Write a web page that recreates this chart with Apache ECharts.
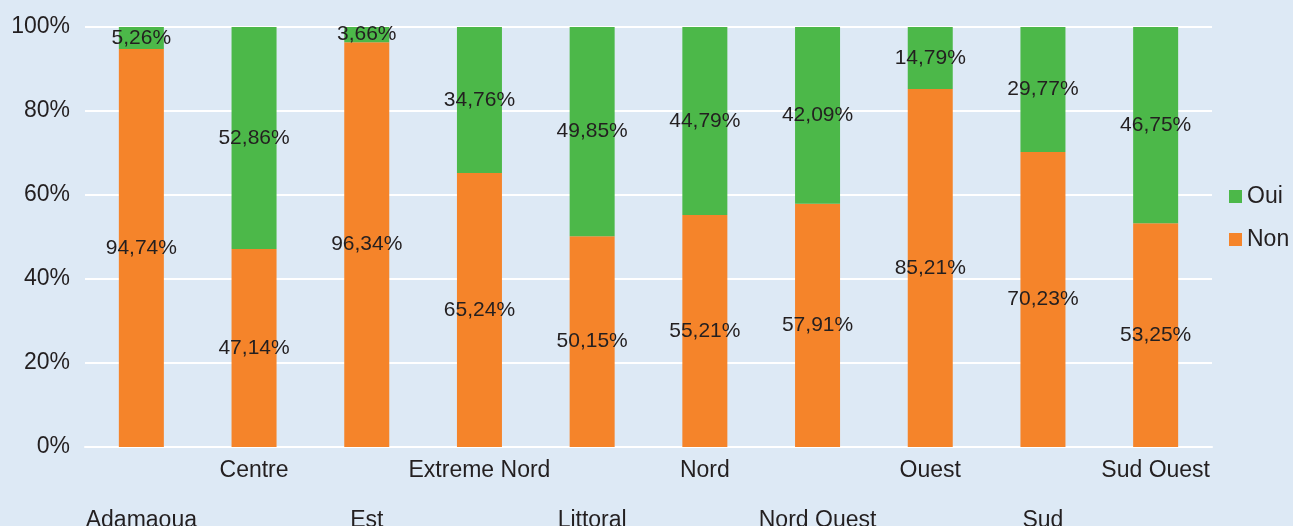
<!DOCTYPE html>
<html>
<head>
<meta charset="utf-8">
<script src="https://cdn.jsdelivr.net/npm/echarts@6/dist/echarts.min.js"></script>
<style>
  html, body { margin: 0; padding: 0; background: #dde9f5; }
  #chart { width: 1293px; height: 526px; }
</style>
</head>
<body>
<div id="chart"></div>
<script>
// Régions and answer shares (%)
const regions = ['Adamaoua', 'Centre', 'Est', 'Extreme Nord', 'Littoral', 'Nord', 'Nord Ouest', 'Ouest', 'Sud', 'Sud Ouest'];
const nonValues = [94.74, 47.14, 96.34, 65.24, 50.15, 55.21, 57.91, 85.21, 70.23, 53.25];
const ouiValues = [5.26, 52.86, 3.66, 34.76, 49.85, 44.79, 42.09, 14.79, 29.77, 46.75];
const yTicks = [0, 20, 40, 60, 80, 100];

const fmt = v => v.toFixed(2).replace('.', ',') + '%';
const textColor = '#231f20';
const font = 'Liberation Sans, Arial, sans-serif';

const chart = echarts.init(document.getElementById('chart'));
chart.setOption({
  backgroundColor: '#dde9f5',
  animation: false,
  textStyle: { fontFamily: font },
  grid: {
    left: 85, right: 81, top: 27, bottom: 79,
    containLabel: false,
    outerBoundsMode: 'none'
  },
  legend: {
    orient: 'vertical',
    left: 1224,
    top: 180,
    itemWidth: 13,
    itemHeight: 13,
    itemGap: 20,
    icon: 'rect',
    data: ['Oui', 'Non'],
    textStyle: { fontSize: 23, color: textColor, fontFamily: font }
  },
  xAxis: {
    type: 'category',
    data: regions,
    axisLine: { lineStyle: { color: '#ffffff', width: 2 } },
    axisTick: { show: false },
    axisLabel: {
      interval: 0,
      margin: 11,
      fontSize: 23,
      lineHeight: 25,
      color: textColor,
      fontFamily: font,
      formatter: (v, i) => (i % 2 === 0 ? '\n\n' + v : v)
    }
  },
  yAxis: {
    type: 'value',
    min: yTicks[0],
    max: yTicks[yTicks.length - 1],
    interval: 20,
    axisLine: { show: false },
    axisTick: { show: false },
    splitLine: { lineStyle: { color: '#ffffff', width: 2 } },
    axisLabel: {
      margin: 15,
      fontSize: 23,
      color: textColor,
      fontFamily: font,
      formatter: v => v + '%'
    }
  },
  series: [
    {
      name: 'Non',
      type: 'bar',
      stack: 'total',
      barWidth: 45,
      data: nonValues,
      itemStyle: { color: '#f5842a' },
      label: {
        show: true,
        position: 'inside',
        fontSize: 21,
        color: textColor,
        fontFamily: font,
        formatter: p => fmt(p.value)
      }
    },
    {
      name: 'Oui',
      type: 'bar',
      stack: 'total',
      barWidth: 45,
      data: ouiValues,
      itemStyle: { color: '#4cb849' },
      label: {
        show: true,
        position: 'inside',
        fontSize: 21,
        color: textColor,
        fontFamily: font,
        formatter: p => fmt(p.value)
      }
    }
  ]
});
</script>
</body>
</html>
